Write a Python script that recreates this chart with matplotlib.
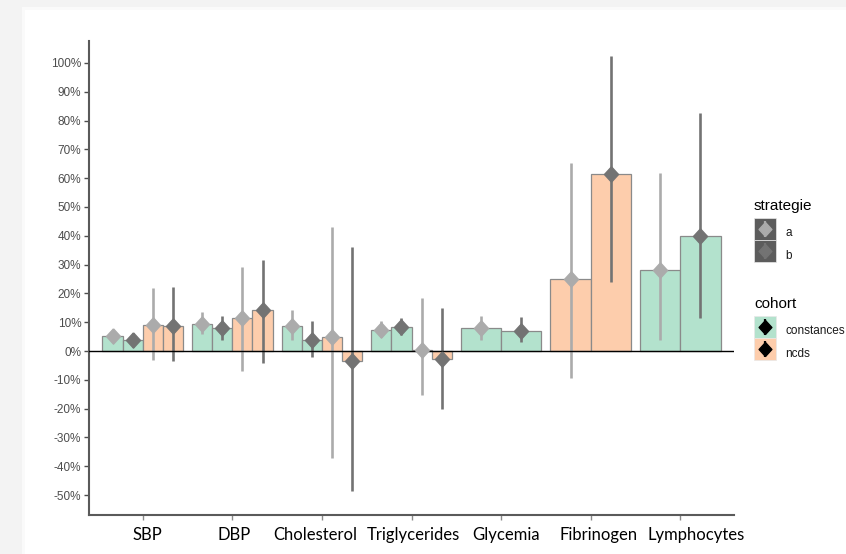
import matplotlib
matplotlib.use("Agg")
import matplotlib.pyplot as plt
import numpy as np
from matplotlib.patches import Rectangle
from matplotlib.lines import Line2D
from matplotlib.legend_handler import HandlerTuple

# ---------------- data ----------------
variables = ["SBP", "DBP", "Cholesterol", "Triglycerides", "Glycemia", "Fibrinogen", "Lymphocytes"]
cohorts = ["constances", "ncds"]
strategies = ["a", "b"]

# (variable, cohort, strategie) -> estimate, lower, upper  (in %)
var_idx = [0, 0, 0, 0, 1, 1, 1, 1, 2, 2, 2, 2, 3, 3, 3, 3, 4, 4, 5, 5, 6, 6]
cohort_lbl = ["constances", "constances", "ncds", "ncds",
              "constances", "constances", "ncds", "ncds",
              "constances", "constances", "ncds", "ncds",
              "constances", "constances", "ncds", "ncds",
              "constances", "constances",
              "ncds", "ncds",
              "constances", "constances"]
strat_lbl = ["a", "b", "a", "b", "a", "b", "a", "b", "a", "b", "a", "b",
             "a", "b", "a", "b", "a", "b", "a", "b", "a", "b"]
estimate = [5.2, 3.8, 9.2, 8.8,
            9.3, 8.0, 11.5, 14.4,
            8.6, 4.0, 5.0, -3.6,
            7.2, 8.2, 0.4, -2.8,
            8.0, 6.8,
            25.0, 61.5,
            28.0, 40.0]
lower = [3.0, 1.5, -3.0, -3.5,
         5.8, 4.0, -6.8, -4.0,
         3.8, -2.0, -37.0, -48.5,
         4.8, 5.5, -15.3, -20.0,
         4.0, 3.0,
         -9.5, 23.8,
         4.0, 11.5]
upper = [7.0, 6.2, 21.8, 22.2,
         13.5, 12.3, 29.2, 31.6,
         14.3, 10.5, 43.0, 36.0,
         10.5, 11.5, 18.3, 15.0,
         12.0, 11.8,
         65.3, 102.5,
         61.8, 82.6]

yticks = list(range(-50, 101, 10))
ytick_labels = [f"{v}%" for v in yticks]

# ---------------- style ----------------
cohort_colors = {"constances": "#B3E2CD", "ncds": "#FDCDAC"}
strat_colors = {"a": "#ABABAB", "b": "#737373"}
diamond = [(0, 1), (0.92, 0), (0, -1), (-0.92, 0), (0, 1)]
label_shift_px = [5, 2, -7, 2, 5, 8, 16]   # horizontal nudges of category labels

fig = plt.figure(figsize=(8.46, 5.54), dpi=100, facecolor="#F3F3F3")
# screenshot panel
fig.patches.append(Rectangle((22 / 846, 0), 1, 1 - 7 / 554, transform=fig.transFigure,
                             facecolor="#FAFAFA", edgecolor="none", zorder=-10))
fig.patches.append(Rectangle((25 / 846, 0), 1, 1 - 10 / 554, transform=fig.transFigure,
                             facecolor="white", edgecolor="none", zorder=-9))

ax = fig.add_axes([89 / 846, (554 - 515) / 554, (734 - 89) / 846, (515 - 41) / 554])
ax.set_facecolor("none")
ax.set_zorder(5)

group_width = 0.9
for i in range(len(var_idx)):
    v = var_idx[i]
    members = [j for j in range(len(var_idx)) if var_idx[j] == v]
    n = len(members)
    k = members.index(i)
    w = group_width / n
    x = (v + 1) - group_width / 2 + w * (k + 0.5)
    ax.bar(x, estimate[i], width=w, color=cohort_colors[cohort_lbl[i]],
           edgecolor="#8A8A8A", linewidth=0.9, zorder=2)
    ax.plot([x, x], [lower[i], upper[i]], color=strat_colors[strat_lbl[i]],
            linewidth=1.9, zorder=3, solid_capstyle="butt")
    ax.plot([x], [estimate[i]], marker=diamond, markersize=11, linestyle="none",
            color=strat_colors[strat_lbl[i]], zorder=4)

ax.axhline(0, color="black", linewidth=1.0, zorder=3)

ax.set_xlim(0.4, 7.6)
ax.set_ylim(-56.9, 107.6)
ax.set_yticks(yticks)
ax.set_yticklabels(ytick_labels, fontsize=8.5, color="#4D4D4D", family="Liberation Sans")
ax.set_xticks(np.arange(1, len(variables) + 1))
ax.set_xticklabels([])
for i, (name, dx) in enumerate(zip(variables, label_shift_px)):
    ax.annotate(name, xy=(i + 1, 0), xycoords=("data", "axes fraction"),
                xytext=(dx, -20), textcoords="offset pixels",
                ha="center", va="center", fontsize=12, color="black", family="Lato",
                annotation_clip=False)
ax.tick_params(axis="y", length=3.5, width=1, color="#4D4D4D", pad=2)
ax.tick_params(axis="x", length=3.5, width=1, color="#8A8A8A")
for s in ["top", "right"]:
    ax.spines[s].set_visible(False)
for s in ["left", "bottom"]:
    ax.spines[s].set_color("#5A5A5A")
    ax.spines[s].set_linewidth(1.5)

# ---------------- legends ----------------
def key(face, mcolor):
    return (Line2D([], [], marker="s", markersize=16.5, markerfacecolor=face,
                   markeredgecolor="#E8E8E8", markeredgewidth=0.5, linestyle="none"),
            Line2D([], [], marker="|", markersize=12, markeredgewidth=1.6, color=mcolor, linestyle="none"),
            Line2D([], [], marker=diamond, markersize=10, color=mcolor, linestyle="none"))

strat_handles = [key("#5C5C5C", strat_colors[s]) for s in strategies]
coh_handles = [key(cohort_colors[c], "black") for c in cohorts]

common = dict(frameon=False, handlelength=1.85, handleheight=2.55, labelspacing=0.0,
              handletextpad=0.8, borderpad=0, borderaxespad=0, alignment="left",
              prop={"family": "Liberation Sans", "size": 8.5},
              handler_map={tuple: HandlerTuple(ndivide=1)})
leg1 = fig.legend(strat_handles, strategies, loc="upper left",
                  bbox_to_anchor=(754 / 846, 1 - 199 / 554), title="strategie",
                  title_fontproperties={"family": "Liberation Sans", "size": 11}, **common)
leg2 = fig.legend(coh_handles, cohorts, loc="upper left",
                  bbox_to_anchor=(754 / 846, 1 - 297 / 554), title="cohort",
                  title_fontproperties={"family": "Liberation Sans", "size": 11}, **common)
for leg in (leg1, leg2):
    leg._legend_box.sep = 6
    for t in leg.get_texts():
        t.set_color("#1A1A1A")

fig.savefig("out.png", dpi=100, facecolor=fig.get_facecolor())
